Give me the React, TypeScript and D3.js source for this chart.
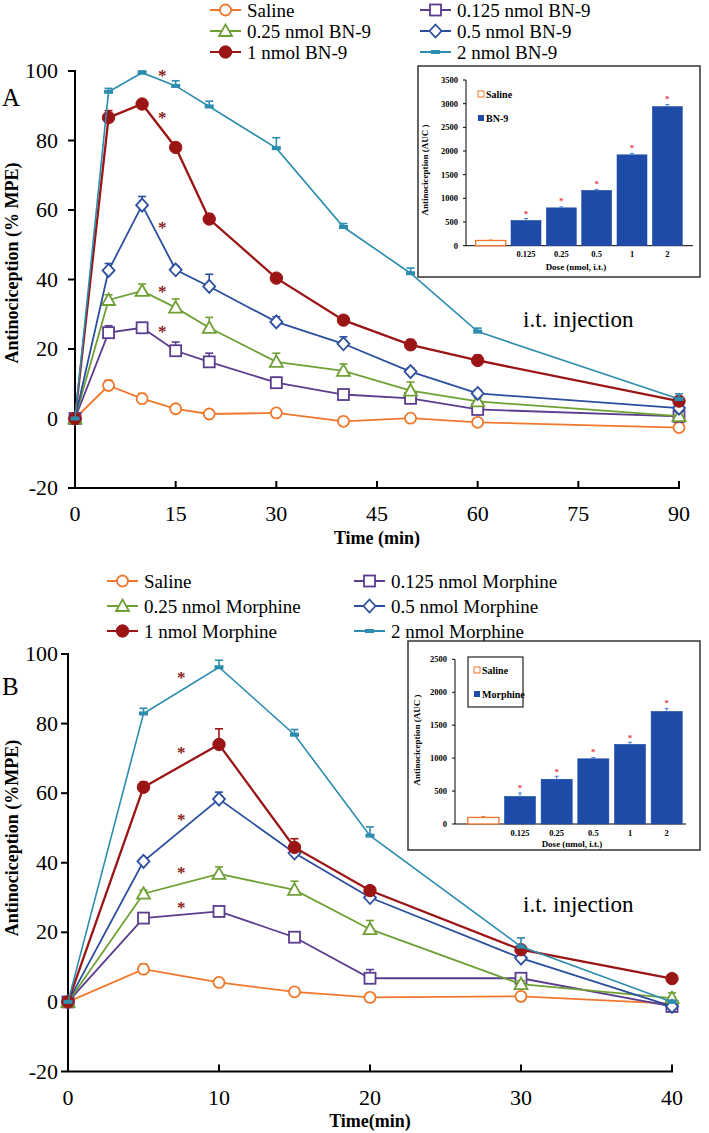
import React from 'react';
import * as d3 from 'd3';

// ---- panel A: BN-9, i.t. ----
const timesA = [0, 5, 10, 15, 20, 30, 40, 50, 60, 90];
const salineA = [0, 9.5, 5.7, 2.8, 1.3, 1.6, -0.8, 0.1, -1.1, -2.6];
const bn0125 = [0, 24.7, 26.1, 19.5, 16.3, 10.3, 6.9, 5.8, 2.6, 0.6];
const bn025 = [0, 34.1, 36.7, 31.9, 26.1, 16.3, 13.7, 8.0, 4.9, 0.7];
const bn05 = [0, 42.6, 61.4, 42.8, 38.0, 27.8, 21.5, 13.5, 7.2, 3.0];
const bn1 = [0, 86.6, 90.5, 78.0, 57.4, 40.4, 28.3, 21.2, 16.7, 5.0];
const bn2 = [0, 94.0, 99.5, 95.7, 89.8, 77.8, 55.1, 41.8, 25.0, 5.6];
const errSalineA = [0, 1.5, 1.5, 1, 1, 1, 0.8, 1, 0.8, 0.5];
const err0125A = [0, 2, 1.5, 2.5, 2.5, 1.5, 1, 1, 1, 0.5];
const err025A = [0, 1.5, 2, 2.5, 3, 2.5, 2, 2.5, 1, 1];
const err05A = [0, 2, 2.5, 1, 3.5, 1.5, 2, 1, 1, 1];
const err1A = [0, 2, 1, 1, 1.5, 1, 1, 1.5, 1.5, 1];
const err2A = [0, 1, 0.5, 1.5, 1.5, 3, 1, 1.5, 1, 1.5];
const starsA = [99, 87, 55.5, 37, 25.5];
const starTimeA = 13;

// ---- panel B: morphine, i.t. ----
const timesB = [0, 5, 10, 15, 20, 30, 40];
const salineB = [0, 9.4, 5.6, 2.9, 1.3, 1.6, -0.5];
const m0125 = [0, 24.1, 26.0, 18.6, 6.8, 6.8, -1.3];
const m025 = [0, 31.1, 36.8, 32.2, 20.9, 5.1, 1.1];
const m05 = [0, 40.4, 58.3, 42.8, 30.0, 12.6, -1.3];
const m1 = [0, 61.7, 74.0, 44.4, 32.0, 15.0, 6.7];
const m2 = [0, 82.9, 96.2, 76.8, 47.8, 15.9, 0.0];
const errSalineB = [0, 1.5, 1, 0.8, 0.8, 0.8, 0.5];
const err0125B = [0, 1, 1, 1, 2.5, 1, 0.5];
const err025B = [0, 1, 2, 2.5, 2.5, 1, 1.5];
const err05B = [0, 1, 2, 1, 1, 1, 0.5];
const err1B = [0, 1.5, 4.5, 2.5, 1, 1, 0.5];
const err2B = [0, 1.5, 2, 1.5, 2.5, 2.5, 0.5];
const starsB = [93.6, 72, 53, 37.5, 27.6];
const starTimeB = 7.5;

// ---- insets (AUC) ----
const doseLabels = ['', '0.125', '0.25', '0.5', '1', '2'];
const aucBN9 = [110, 535, 800, 1170, 1920, 2940];
const aucBN9Err = [10, 40, 20, 20, 30, 40];
const aucBN9Star = [null, 700, 970, 1330, 2080, 3130];
const aucMor = [100, 420, 680, 990, 1210, 1710];
const aucMorErr = [15, 50, 45, 20, 30, 45];
const aucMorStar = [null, 560, 800, 1110, 1320, 1850];

const yTicks = [-20, 0, 20, 40, 60, 80, 100];
const xTicksA = [0, 15, 30, 45, 60, 75, 90];
const xTicksB = [0, 10, 20, 30, 40];

const colors = {
  saline: '#F0772B',
  d0125: '#5B3C8F',
  d025: '#6FA034',
  d05: '#2B4F9E',
  d1: '#9C1515',
  d2: '#2C8DAE',
};
const barBlue = '#1E4BA8';
const serif = '"Liberation Serif", "Times New Roman", serif';

type Shape = 'circle' | 'square' | 'triangle' | 'diamond' | 'dot' | 'dash';

function Marker({ shape, x, y, color }: { shape: Shape; x: number; y: number; color: string }) {
  const sw = 1.8;
  if (shape === 'circle') return <circle cx={x} cy={y} r={5.5} fill="#fff" stroke={color} strokeWidth={sw} />;
  if (shape === 'square') return <rect x={x - 5.5} y={y - 5.5} width={11} height={11} fill="#fff" stroke={color} strokeWidth={sw} />;
  if (shape === 'triangle')
    return <path d={`M${x},${y - 6.5}L${x + 6.5},${y + 5}L${x - 6.5},${y + 5}Z`} fill="#fff" stroke={color} strokeWidth={sw} />;
  if (shape === 'diamond')
    return <path d={`M${x},${y - 6.5}L${x + 6},${y}L${x},${y + 6.5}L${x - 6},${y}Z`} fill="#fff" stroke={color} strokeWidth={sw} />;
  if (shape === 'dot') return <circle cx={x} cy={y} r={6.2} fill={color} stroke={color} strokeWidth={1} />;
  return <rect x={x - 4.5} y={y - 2} width={9} height={4} fill={color} />;
}

interface Series {
  label: string;
  values: number[];
  errs: number[];
  color: string;
  shape: Shape;
  width: number;
}

interface PanelProps {
  times: number[];
  series: Series[];
  xTicks: number[];
  xRange: [number, number];
  yRange: [number, number];
  yTitle: string;
  yTitleY: number;
  xTitle: string;
  xTitleY: number;
  xLabelY: number;
  letter: string;
  letterY: number;
  stars: number[];
  starTime: number;
  injY: number;
  legendRows: number[];
  legendCols: number[];
}

function LinePanel(p: PanelProps) {
  const x = d3.scaleLinear().domain([0, p.xTicks[p.xTicks.length - 1]]).range(p.xRange);
  const y = d3.scaleLinear().domain([-20, 100]).range(p.yRange);
  const x0 = p.xRange[0];
  const yBottom = y(-20);
  return (
    <g fontFamily={serif}>
      {/* legend */}
      {p.series.map((s, i) => {
        const row = p.legendRows[Math.floor(i / 2)];
        const cx = p.legendCols[i % 2];
        return (
          <g key={s.label}>
            <line x1={cx} x2={cx + 31} y1={row} y2={row} stroke={s.color} strokeWidth={2} />
            <Marker shape={s.shape} x={cx + 15.5} y={row} color={s.color} />
            <text x={cx + 37} y={row + 6.5} fontSize={19}>{s.label}</text>
          </g>
        );
      })}
      {/* axes */}
      <line x1={x0} x2={x0} y1={y(100) - 1} y2={yBottom} stroke="#000" strokeWidth={2} />
      <line x1={x0} x2={p.xRange[1] + 1} y1={yBottom} y2={yBottom} stroke="#000" strokeWidth={2} />
      {yTicks.map(t => (
        <g key={t}>
          <line x1={x0 - 7} x2={x0} y1={y(t)} y2={y(t)} stroke="#000" strokeWidth={2} />
          <text x={58} y={y(t) + 7} fontSize={22} textAnchor="end">{t}</text>
        </g>
      ))}
      {p.xTicks.map(t => (
        <g key={t}>
          <line x1={x(t)} x2={x(t)} y1={yBottom} y2={yBottom - 7} stroke="#000" strokeWidth={2} />
          <text x={x(t)} y={p.xLabelY} fontSize={22} textAnchor="middle">{t}</text>
        </g>
      ))}
      <text x={(p.xRange[0] + p.xRange[1]) / 2} y={p.xTitleY} fontSize={18} fontWeight="bold" textAnchor="middle">{p.xTitle}</text>
      <text transform={`translate(18,${p.yTitleY}) rotate(-90)`} fontSize={18} fontWeight="bold" textAnchor="middle">{p.yTitle}</text>
      <text x={2} y={p.letterY} fontSize={25}>{p.letter}</text>
      <text x={523} y={p.injY} fontSize={23}>i.t. injection</text>
      {/* series */}
      {p.series.map(s => {
        const line = d3.line<number>().x((_, i) => x(p.times[i])).y(v => y(v));
        return (
          <g key={s.label}>
            {s.values.map((v, i) =>
              s.errs[i] > 0 ? (
                <g key={i}>
                  <line x1={x(p.times[i])} x2={x(p.times[i])} y1={y(v)} y2={y(v + s.errs[i])} stroke={s.color} strokeWidth={1.6} />
                  <line x1={x(p.times[i]) - 4} x2={x(p.times[i]) + 4} y1={y(v + s.errs[i])} y2={y(v + s.errs[i])} stroke={s.color} strokeWidth={1.6} />
                </g>
              ) : null
            )}
            <path d={line(s.values) ?? ''} fill="none" stroke={s.color} strokeWidth={s.width} />
            {s.values.map((v, i) => (
              <Marker key={i} shape={s.shape} x={x(p.times[i])} y={y(v)} color={s.color} />
            ))}
          </g>
        );
      })}
      {p.stars.map((v, i) => (
        <text key={i} x={x(p.starTime)} y={y(v) + 7} fontSize={17} fontWeight="bold" fill="#8B1C1C" textAnchor="middle">*</text>
      ))}
    </g>
  );
}

interface InsetProps {
  box: [number, number, number, number];
  axisX: number;
  axisEnd: number;
  band: [number, number];
  yRange: [number, number];
  yMax: number;
  yStep: number;
  values: number[];
  errs: number[];
  stars: (number | null)[];
  drug: string;
  legendBox: boolean;
  legendX: number;
  legendY: [number, number];
  titleX: number;
  titleY: number;
  labelY: number;
  doseY: number;
}

function Inset(p: InsetProps) {
  const [bx, by, bw, bh] = p.box;
  const x = d3.scaleBand<string>().domain(doseLabels.map((d, i) => `${i}`)).range(p.band).paddingInner(0.15).paddingOuter(0.075);
  const y = d3.scaleLinear().domain([0, p.yMax]).range(p.yRange);
  const ticks = d3.range(0, p.yMax + 1, p.yStep);
  return (
    <g fontFamily={serif} fontWeight="bold">
      <rect x={bx} y={by} width={bw} height={bh} fill="#fff" stroke="#333" strokeWidth={1.5} />
      <line x1={p.axisX} x2={p.axisX} y1={y(p.yMax)} y2={y(0)} stroke="#000" strokeWidth={1} />
      <line x1={p.axisX} x2={p.axisEnd} y1={y(0)} y2={y(0)} stroke="#000" strokeWidth={1} />
      {ticks.map(t => (
        <g key={t}>
          <line x1={p.axisX - 3} x2={p.axisX} y1={y(t)} y2={y(t)} stroke="#000" strokeWidth={1} />
          <text x={p.axisX - 8} y={y(t) + 3} fontSize={8.5} textAnchor="end">{t}</text>
        </g>
      ))}
      {p.values.map((v, i) => {
        const key = `${i}`;
        const bxp = x(key) ?? 0;
        const bwp = x.bandwidth();
        const cx = bxp + bwp / 2;
        const isSaline = i === 0;
        return (
          <g key={key}>
            <rect x={bxp} y={y(v)} width={bwp} height={y(0) - y(v)}
              fill={isSaline ? '#fff' : barBlue} stroke={isSaline ? colors.saline : barBlue} strokeWidth={isSaline ? 1.3 : 0.5} />
            <line x1={cx} x2={cx} y1={y(v)} y2={y(v + p.errs[i])} stroke={isSaline ? colors.saline : '#3F7FD0'} strokeWidth={1} />
            <line x1={cx - 2} x2={cx + 2} y1={y(v + p.errs[i])} y2={y(v + p.errs[i])} stroke={isSaline ? colors.saline : '#3F7FD0'} strokeWidth={1} />
            {p.stars[i] != null && (
              <text x={cx} y={y(p.stars[i] as number) + 4} fontSize={9} fill="#E8383B" textAnchor="middle">*</text>
            )}
            <text x={cx} y={p.labelY} fontSize={8.5} textAnchor="middle">{doseLabels[i]}</text>
          </g>
        );
      })}
      <text x={(p.band[0] + p.band[1]) / 2 - 3} y={p.doseY} fontSize={9} textAnchor="middle">Dose (nmol, i.t.)</text>
      <text transform={`translate(${p.titleX},${p.titleY}) rotate(-90)`} fontSize={9} textAnchor="middle">Antinociception (AUC )</text>
      {p.legendBox && (
        <rect x={p.legendX - 6} y={p.legendY[0] - 13} width={55} height={p.legendY[1] - p.legendY[0] + 26} fill="none" stroke="#222" strokeWidth={1.2} />
      )}
      <rect x={p.legendX} y={p.legendY[0] - 3} width={6} height={6} fill="#fff" stroke={colors.saline} strokeWidth={1} />
      <text x={p.legendX + 8} y={p.legendY[0] + 3.5} fontSize={10}>Saline</text>
      <rect x={p.legendX} y={p.legendY[1] - 3} width={6} height={6} fill={barBlue} />
      <text x={p.legendX + 8} y={p.legendY[1] + 3.5} fontSize={10}>{p.drug}</text>
    </g>
  );
}

const seriesA: Series[] = [
  { label: 'Saline', values: salineA, errs: errSalineA, color: colors.saline, shape: 'circle', width: 1.8 },
  { label: '0.125 nmol BN-9', values: bn0125, errs: err0125A, color: colors.d0125, shape: 'square', width: 1.8 },
  { label: '0.25 nmol BN-9', values: bn025, errs: err025A, color: colors.d025, shape: 'triangle', width: 1.8 },
  { label: '0.5 nmol BN-9', values: bn05, errs: err05A, color: colors.d05, shape: 'diamond', width: 1.8 },
  { label: '1 nmol BN-9', values: bn1, errs: err1A, color: colors.d1, shape: 'dot', width: 2.3 },
  { label: '2 nmol BN-9', values: bn2, errs: err2A, color: colors.d2, shape: 'dash', width: 1.6 },
];

const seriesB: Series[] = [
  { label: 'Saline', values: salineB, errs: errSalineB, color: colors.saline, shape: 'circle', width: 1.8 },
  { label: '0.125 nmol Morphine', values: m0125, errs: err0125B, color: colors.d0125, shape: 'square', width: 1.8 },
  { label: '0.25 nmol Morphine', values: m025, errs: err025B, color: colors.d025, shape: 'triangle', width: 1.8 },
  { label: '0.5 nmol Morphine', values: m05, errs: err05B, color: colors.d05, shape: 'diamond', width: 1.8 },
  { label: '1 nmol Morphine', values: m1, errs: err1B, color: colors.d1, shape: 'dot', width: 2.3 },
  { label: '2 nmol Morphine', values: m2, errs: err2B, color: colors.d2, shape: 'dash', width: 1.6 },
];

export default function App() {
  return (
    <svg width={709} height={1133} style={{ position: 'absolute', left: 0, top: 0, background: '#fff' }}>
      <LinePanel
        times={timesA} series={seriesA} xTicks={xTicksA} xRange={[75, 679]} yRange={[488, 71]}
        yTitle="Antinociception (% MPE)" yTitleY={263} xTitle="Time (min)" xTitleY={544} xLabelY={521}
        letter="A" letterY={106} stars={starsA} starTime={starTimeA} injY={327}
        legendRows={[10, 31, 52]} legendCols={[210, 420]}
      />
      <Inset
        box={[418, 66, 282, 211]} axisX={466} axisEnd={693} band={[473, 685]} yRange={[245.7, 80]}
        yMax={3500} yStep={500} values={aucBN9} errs={aucBN9Err} stars={aucBN9Star} drug="BN-9"
        legendBox={false} legendX={478} legendY={[94, 118]} titleX={428} titleY={170} labelY={257} doseY={270}
      />
      <LinePanel
        times={timesB} series={seriesB} xTicks={xTicksB} xRange={[68, 672]} yRange={[1071.5, 654]}
        yTitle="Antinociception (%MPE)" yTitleY={838} xTitle="Time(min)" xTitleY={1127} xLabelY={1105}
        letter="B" letterY={695} stars={starsB} starTime={starTimeB} injY={912}
        legendRows={[581, 606, 631]} legendCols={[107, 354]}
      />
      <Inset
        box={[408, 641, 292, 209]} axisX={455} axisEnd={686} band={[465, 685]} yRange={[824, 659.3]}
        yMax={2500} yStep={500} values={aucMor} errs={aucMorErr} stars={aucMorStar} drug="Morphine"
        legendBox={true} legendX={474} legendY={[670, 694]} titleX={420} titleY={740} labelY={836} doseY={847}
      />
    </svg>
  );
}
